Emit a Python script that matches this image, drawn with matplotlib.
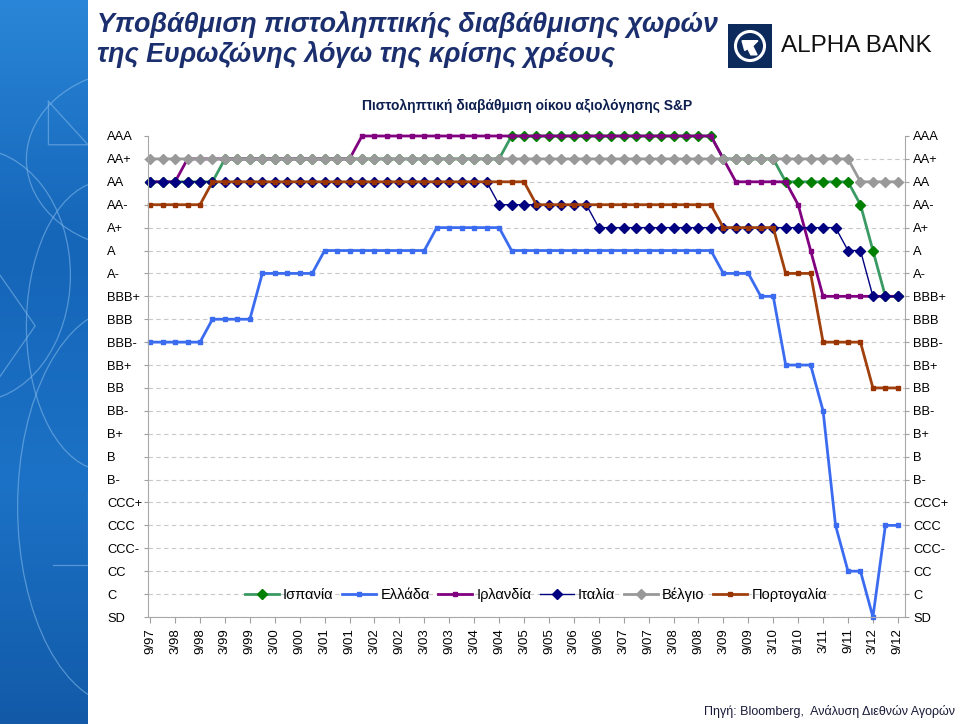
import numpy as np
import matplotlib
matplotlib.use("Agg")
import matplotlib.pyplot as plt
from matplotlib.patches import Rectangle, Circle, Arc, Polygon
from matplotlib.lines import Line2D

plt.rcParams['font.family'] = ['Liberation Sans', 'DejaVu Sans']

# rating scale, bottom to top
ratings = ["SD", "C", "CC", "CCC-", "CCC", "CCC+", "B-", "B", "B+", "BB-", "BB",
           "BB+", "BBB-", "BBB", "BBB+", "A-", "A", "A+", "AA-", "AA", "AA+", "AAA"]

# quarterly observations 9/97 .. 9/12 (61 points)
spain = ["AA", "AA", "AA", "AA", "AA", "AA", "AA+", "AA+", "AA+", "AA+",
         "AA+", "AA+", "AA+", "AA+", "AA+", "AA+", "AA+", "AA+", "AA+", "AA+",
         "AA+", "AA+", "AA+", "AA+", "AA+", "AA+", "AA+", "AA+", "AA+", "AAA",
         "AAA", "AAA", "AAA", "AAA", "AAA", "AAA", "AAA", "AAA", "AAA", "AAA",
         "AAA", "AAA", "AAA", "AAA", "AAA", "AAA", "AA+", "AA+", "AA+", "AA+",
         "AA+", "AA", "AA", "AA", "AA", "AA", "AA", "AA-", "A", "BBB+",
         "BBB+"]
greece = ["BBB-", "BBB-", "BBB-", "BBB-", "BBB-", "BBB", "BBB", "BBB", "BBB", "A-",
          "A-", "A-", "A-", "A-", "A", "A", "A", "A", "A", "A",
          "A", "A", "A", "A+", "A+", "A+", "A+", "A+", "A+", "A",
          "A", "A", "A", "A", "A", "A", "A", "A", "A", "A",
          "A", "A", "A", "A", "A", "A", "A-", "A-", "A-", "BBB+",
          "BBB+", "BB+", "BB+", "BB+", "BB-", "CCC", "CC", "CC", "SD", "CCC",
          "CCC"]
ireland = ["AA", "AA", "AA", "AA+", "AA+", "AA+", "AA+", "AA+", "AA+", "AA+",
           "AA+", "AA+", "AA+", "AA+", "AA+", "AA+", "AA+", "AAA", "AAA", "AAA",
           "AAA", "AAA", "AAA", "AAA", "AAA", "AAA", "AAA", "AAA", "AAA", "AAA",
           "AAA", "AAA", "AAA", "AAA", "AAA", "AAA", "AAA", "AAA", "AAA", "AAA",
           "AAA", "AAA", "AAA", "AAA", "AAA", "AAA", "AA+", "AA", "AA", "AA",
           "AA", "AA", "AA-", "A", "BBB+", "BBB+", "BBB+", "BBB+", "BBB+", "BBB+",
           "BBB+"]
italy = ["AA", "AA", "AA", "AA", "AA", "AA", "AA", "AA", "AA", "AA",
         "AA", "AA", "AA", "AA", "AA", "AA", "AA", "AA", "AA", "AA",
         "AA", "AA", "AA", "AA", "AA", "AA", "AA", "AA", "AA-", "AA-",
         "AA-", "AA-", "AA-", "AA-", "AA-", "AA-", "A+", "A+", "A+", "A+",
         "A+", "A+", "A+", "A+", "A+", "A+", "A+", "A+", "A+", "A+",
         "A+", "A+", "A+", "A+", "A+", "A+", "A", "A", "BBB+", "BBB+",
         "BBB+"]
belgium = ["AA+", "AA+", "AA+", "AA+", "AA+", "AA+", "AA+", "AA+", "AA+", "AA+",
           "AA+", "AA+", "AA+", "AA+", "AA+", "AA+", "AA+", "AA+", "AA+", "AA+",
           "AA+", "AA+", "AA+", "AA+", "AA+", "AA+", "AA+", "AA+", "AA+", "AA+",
           "AA+", "AA+", "AA+", "AA+", "AA+", "AA+", "AA+", "AA+", "AA+", "AA+",
           "AA+", "AA+", "AA+", "AA+", "AA+", "AA+", "AA+", "AA+", "AA+", "AA+",
           "AA+", "AA+", "AA+", "AA+", "AA+", "AA+", "AA+", "AA", "AA", "AA",
           "AA"]
portugal = ["AA-", "AA-", "AA-", "AA-", "AA-", "AA", "AA", "AA", "AA", "AA",
            "AA", "AA", "AA", "AA", "AA", "AA", "AA", "AA", "AA", "AA",
            "AA", "AA", "AA", "AA", "AA", "AA", "AA", "AA", "AA", "AA",
            "AA", "AA-", "AA-", "AA-", "AA-", "AA-", "AA-", "AA-", "AA-", "AA-",
            "AA-", "AA-", "AA-", "AA-", "AA-", "AA-", "A+", "A+", "A+", "A+",
            "A+", "A-", "A-", "A-", "BBB-", "BBB-", "BBB-", "BBB-", "BB", "BB",
            "BB"]

xlabels = ["9/97", "3/98", "9/98", "3/99", "9/99", "3/00", "9/00", "3/01", "9/01",
           "3/02", "9/02", "3/03", "9/03", "3/04", "9/04", "3/05", "9/05", "3/06",
           "9/06", "3/07", "9/07", "3/08", "9/08", "3/09", "9/09", "3/10", "9/10",
           "3/11", "9/11", "3/12", "9/12"]

fig = plt.figure(figsize=(9.6, 7.24), dpi=100)

# decorative blue strip on the left
strip = fig.add_axes([0, 0, 88 / 960, 1])
grad = np.linspace(0, 1, 256).reshape(-1, 1)
strip.imshow(grad, aspect='auto', cmap=matplotlib.colors.LinearSegmentedColormap.from_list(
    "b", ["#2a86d8", "#1565b8", "#1c72c6", "#125aa8"]), extent=[0, 1, 0, 1])
deco = '#7fb6e8'
for cx, cy, w, h, t1, t2 in [(1.6, 0.78, 2.6, 0.25, 90, 270), (1.4, 0.3, 2.4, 0.55, 90, 270),
                             (-0.3, 0.62, 2.2, 0.35, -90, 90), (1.2, 0.55, 1.8, 0.4, 120, 260)]:
    strip.add_patch(Arc((cx, cy), w, h, theta1=t1, theta2=t2, color=deco, lw=0.9, alpha=0.6))
strip.plot([0.55, 1.0, 0.55, 0.55], [0.86, 0.80, 0.80, 0.86], color=deco, lw=0.9, alpha=0.6)
strip.plot([0.6, 1.0, 1.0], [0.22, 0.22, 0.32], color=deco, lw=0.9, alpha=0.6)
strip.plot([0.0, 0.4, 0.0], [0.62, 0.55, 0.48], color=deco, lw=0.9, alpha=0.6)
strip.set_xlim(0, 1)
strip.set_ylim(0, 1)
strip.axis('off')

# titles
title_col = '#1b2f6e'
fig.text(97 / 960, 1 - 25 / 724, "Υποβάθμιση πιστοληπτικής διαβάθμισης χωρών",
         ha='left', va='center', fontsize=19.4, fontweight='bold', style='italic', color=title_col)
fig.text(97 / 960, 1 - 55 / 724, "της Ευρωζώνης λόγω της κρίσης χρέους",
         ha='left', va='center', fontsize=19.4, fontweight='bold', style='italic', color=title_col)
fig.text(527 / 960, 1 - 106 / 724, "Πιστοληπτική διαβάθμιση οίκου αξιολόγησης S&P",
         ha='center', va='center', fontsize=10, fontweight='bold', color='#0d1f4f')
fig.text(955 / 960, 1 - 711 / 724, "Πηγή: Bloomberg,  Ανάλυση Διεθνών Αγορών",
         ha='right', va='center', fontsize=9, color='#1a1a3a')

# logo
logo = fig.add_axes([728 / 960, 1 - 68 / 724, 44 / 960, 44 / 724])
logo.add_patch(Rectangle((0, 0), 1, 1, color='#0c2a5c'))
logo.add_patch(Circle((0.5, 0.5), 0.33, fill=False, ec='white', lw=2.2))
logo.add_patch(Polygon([[0.32, 0.62], [0.68, 0.62], [0.56, 0.5], [0.66, 0.3], [0.52, 0.3],
                        [0.45, 0.44], [0.38, 0.4]], color='white'))
logo.set_xlim(0, 1)
logo.set_ylim(0, 1)
logo.axis('off')
fig.text(781 / 960, 1 - 46 / 724, "ALPHA BANK", ha='left', va='center', fontsize=17.5, color='#111111')

# main chart
ax = fig.add_axes([148.3 / 960, 107 / 724, 756.4 / 960, 481 / 724])
idx = {r: k for k, r in enumerate(ratings)}
x = np.arange(len(spain))

series = [
    ("Ισπανία", spain, '#3a9a64', 'D', '#008000', 5, 2.0),
    ("Ελλάδα", greece, '#3b6cf0', 's', '#3b6cf0', 3.3, 2.0),
    ("Ιρλανδία", ireland, '#800080', 's', '#800080', 3.3, 2.0),
    ("Ιταλία", italy, '#000080', 'D', '#000080', 5, 1.0),
    ("Βέλγιο", belgium, '#999999', 'D', '#999999', 5, 2.0),
    ("Πορτογαλία", portugal, '#a0400c', 's', '#993300', 3.3, 2.0),
]
for name, vals, lc, mk, mc, ms, lw in series:
    y = [idx[v] for v in vals]
    ax.plot(x, y, color=lc, lw=lw, marker=mk, markersize=ms, markerfacecolor=mc,
            markeredgecolor=mc, label=name, clip_on=False)

ax.set_xlim(-0.15, 60.55)
ax.set_ylim(0, 21)
ax.set_yticks(range(len(ratings)))
ax.set_yticklabels(ratings)
ax.set_xticks(np.arange(0, 61, 2))
ax.set_xticklabels(xlabels, rotation=90, fontsize=9.5)
ax.tick_params(axis='y', length=3, width=0.8, color='#a0a0a0', pad=26.5, labelsize=9.3)
ax.tick_params(axis='x', length=4, width=0.8, color='#a0a0a0', pad=4)
for lab in ax.get_yticklabels():
    lab.set_horizontalalignment('left')

ax.yaxis.grid(True, color='#c8c8c8', ls=(0, (4, 3)), lw=0.8)
ax.get_ygridlines()[-1].set_visible(False)
ax.set_axisbelow(True)
for s in ['left', 'right', 'bottom']:
    ax.spines[s].set_color('#a8a8a8')
    ax.spines[s].set_linewidth(0.8)
ax.spines['top'].set_visible(False)

ax2 = ax.twinx()
ax2.set_ylim(0, 21)
ax2.set_yticks(range(len(ratings)))
ax2.set_yticklabels(ratings)
ax2.tick_params(axis='y', length=3, width=0.8, color='#a0a0a0', pad=3, labelsize=9.3)
for s in ['left', 'right', 'bottom', 'top']:
    ax2.spines[s].set_visible(False)

handles = [Line2D([0], [0], color=lc, lw=lw, marker=mk, markersize=ms,
                  markerfacecolor=mc, markeredgecolor=mc)
           for name, vals, lc, mk, mc, ms, lw in series]
fig.legend(handles, [s[0] for s in series], loc='center', bbox_to_anchor=(536 / 960, 1 - 595 / 724),
           ncol=6, frameon=False, fontsize=10.5, handlelength=2.3, handletextpad=0.3,
           columnspacing=0.6, numpoints=1)

fig.savefig("out.png", dpi=100)
